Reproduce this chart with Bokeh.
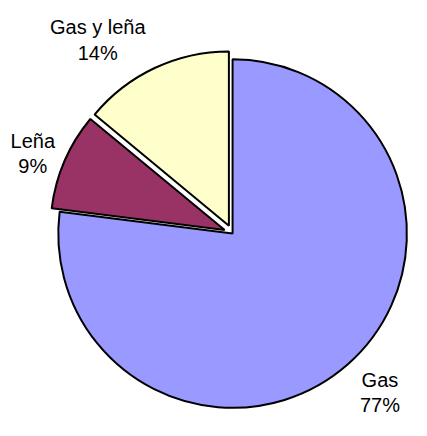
import math
from bokeh.plotting import figure
from bokeh.models import Range1d, ColumnDataSource
from bokeh.core.properties import value
from bokeh.embed import file_html
from bokeh.resources import INLINE

# ---- data ----
categories = ["Gas", "Leña", "Gas y leña"]
shares = [77, 9, 14]

# ---- style / layout ----
colors = ["#9999FF", "#993366", "#FFFFCC"]
W, H = 411, 420
S = 0.963                                  # fit the 427x436 design into W x H
explode = [0, 9 * S, 9 * S]                # px offset of each slice
CX, CY, R = 241 * S, H - 242 * S, 181 * S  # pie centre / radius (data units = px)
# label anchors in design px: (centre x, baseline of first line)
label_pos = [(394, 394), (33.5, 145.5), (101, 28)]
LINE = 26.5
FONT = "Liberation Sans"
SIZE = "20px"

p = figure(width=W, height=H, x_range=Range1d(0, W), y_range=Range1d(0, H),
           output_backend="svg", toolbar_location=None, min_border=0)
p.axis.visible = False
p.grid.visible = False
p.outline_line_color = None
p.background_fill_color = "white"
p.border_fill_color = "white"

total = float(sum(shares))
cum = 0.0
starts, ends, xs, ys = [], [], [], []
for s, e in zip(shares, explode):
    t0 = cum / total * 2 * math.pi
    t1 = (cum + s) / total * 2 * math.pi
    cum += s
    starts.append(math.pi / 2 - t1)
    ends.append(math.pi / 2 - t0)
    mid = (t0 + t1) / 2
    xs.append(CX + e * math.sin(mid))
    ys.append(CY + e * math.cos(mid))

src = ColumnDataSource(dict(x=xs, y=ys, start=starts, end=ends, color=colors,
                            cat=categories))
p.wedge(x="x", y="y", radius=R, start_angle="start", end_angle="end",
        fill_color="color", line_color="black", line_width=2, source=src)

tx, ty, tt = [], [], []
for (lx, ly), cat, s in zip(label_pos, categories, shares):
    tx += [lx * S, lx * S]
    ty += [H - ly * S, H - (ly + LINE) * S]
    tt += [cat, f"{s}%"]

p.text(x=tx, y=ty, text=tt, text_align="center", text_baseline="alphabetic",
       text_font=value(FONT), text_font_size=SIZE, text_color="black")

open("out.html", "w").write(file_html(p, INLINE))
